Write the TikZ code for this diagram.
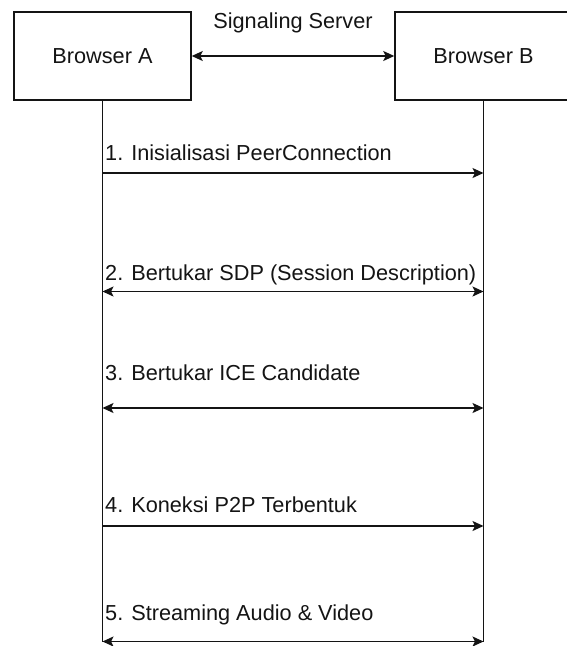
\documentclass[tikz,border=0pt]{standalone}
\usepackage{fontspec}
\setmainfont{Liberation Sans}
\usetikzlibrary{arrows.meta}

\definecolor{ink}{RGB}{20,20,20}

\tikzset{
  actor/.style={draw=ink, line width=1.5pt, fill=white, minimum width=177pt,
    minimum height=88pt, inner sep=0pt, text=ink,
    font=\fontsize{21.7}{26}\selectfont},
  lifeline/.style={draw=ink, line width=1.5pt},
  msg/.style={draw=ink, line width=1.5pt, -{Stealth[length=11pt, width=10pt, inset=2.5pt]}},
  dmsg/.style={draw=ink, line width=1.5pt,
    {Stealth[length=11pt, width=10pt, inset=2.5pt]}-{Stealth[length=11pt, width=10pt, inset=2.5pt]}},
  lbl/.style={anchor=base west, inner sep=0pt, text=ink,
    font=\fontsize{21.7}{26}\selectfont}
}

\begin{document}
\begin{tikzpicture}[x=1pt, y=-1pt]
  \useasboundingbox (0,0) rectangle (566,646);

  % participants
  \node[actor] (A) at (102.5,56) {Browser A};
  \node[actor] (B) at (483.5,56) {Browser B};

  % signaling link between the browsers
  \draw[dmsg] (A.east) -- (B.west);
  \node[anchor=base, inner sep=0pt, text=ink,
    font=\fontsize{21.7}{26}\selectfont] (sig) at (293,28) {Signaling Server};

  % lifeline ends
  \coordinate (Aend) at (102.5,642);
  \coordinate (Bend) at (483.5,642);
  \draw[lifeline] (A.south) -- (Aend);
  \draw[lifeline] (B.south) -- (Bend);

  % message anchors on the lifelines
  \coordinate (a1) at (102.5,173);   \coordinate (b1) at (483.5,173);
  \coordinate (a2) at (102.5,291.5); \coordinate (b2) at (483.5,291.5);
  \coordinate (a3) at (102.5,408);   \coordinate (b3) at (483.5,408);
  \coordinate (a4) at (102.5,526);   \coordinate (b4) at (483.5,526);
  \coordinate (a5) at (102.5,641.5); \coordinate (b5) at (483.5,641.5);

  % messages
  \draw[msg]  (a1) -- (b1);
  \draw[dmsg] (a2) -- (b2);
  \draw[dmsg] (a3) -- (b3);
  \draw[msg]  (a4) -- (b4);
  \draw[dmsg] (a5) -- (b5);

  % message labels
  \node[lbl] (l1) at (105,160) {1. Inisialisasi PeerConnection};
  \node[lbl] (l2) at (105,280) {2. Bertukar SDP (Session Description)};
  \node[lbl] (l3) at (105,380) {3. Bertukar ICE Candidate};
  \node[lbl] (l4) at (105,512) {4. Koneksi P2P Terbentuk};
  \node[lbl] (l5) at (105,620) {5. Streaming Audio \& Video};
\end{tikzpicture}
\end{document}
